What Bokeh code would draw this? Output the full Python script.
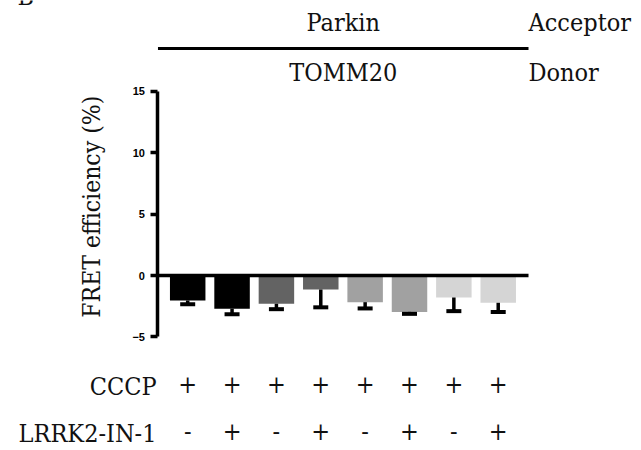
import math
from bokeh.plotting import figure
from bokeh.models import (Range1d, FixedTicker, Whisker, TeeHead,
                          ColumnDataSource, Label, LabelSet)
from bokeh.core.properties import value
from bokeh.embed import file_html
from bokeh.resources import INLINE

# ---- data ----
groups = [1, 2, 3, 4, 5, 6, 7, 8]
fret = [-2.03, -2.71, -2.30, -1.14, -2.17, -2.96, -1.79, -2.22]
sem = [0.30, 0.45, 0.44, 1.45, 0.51, 0.16, 1.11, 0.75]
bar_colors = ["#000000", "#000000", "#636363", "#636363",
              "#a1a1a1", "#a1a1a1", "#d5d5d5", "#d5d5d5"]
cccp = ["+", "+", "+", "+", "+", "+", "+", "+"]
lrrk2 = ["-", "+", "-", "+", "-", "+", "-", "+"]
y_ticks = [-5, 0, 5, 10, 15]
acceptor_label = "Parkin"
donor_label = "TOMM20"
y_title = "FRET efficiency (%)"

COND = "DejaVu Serif Condensed"
X0, X1 = 0.330, 8.683          # y-axis position / end of zero line
OFF = 0.70                     # baseline correction (data units)
SIGN_OFF = -0.50               # +/- glyph vertical correction

p = figure(width=641, height=450, output_backend="svg", toolbar_location=None,
           x_range=Range1d(-3.220, 11.230), y_range=Range1d(-14.239, 22.376),
           x_axis_location=None, min_border=0)
p.outline_line_color = None
p.xgrid.visible = False
p.ygrid.visible = False

src = ColumnDataSource(dict(x=groups, top=[0] * 8, bottom=fret, color=bar_colors,
                            lower=[f - s for f, s in zip(fret, sem)],
                            cccp=cccp, lrrk2=lrrk2))

p.vbar(x="x", top="top", bottom="bottom", width=0.8, fill_color="color",
       line_color=None, source=src)

wh = Whisker(base="x", upper="bottom", lower="lower", source=src,
             upper_head=None,
             lower_head=TeeHead(size=15, line_width=4, line_color="black"),
             line_width=3.5, line_color="black", level="overlay")
p.add_layout(wh)

# zero line and header line
p.segment(x0=[X0], y0=[0], x1=[X1], y1=[0], line_width=3.5, line_color="black")
p.segment(x0=[X0], y0=[18.47], x1=[X1], y1=[18.47], line_width=3, line_color="black")

ax = p.yaxis[0]
ax.fixed_location = X0
ax.ticker = FixedTicker(ticks=y_ticks)
ax.bounds = (-5, 15)
ax.axis_line_width = 3.5
ax.major_tick_line_width = 3.5
ax.major_tick_out = 7
ax.major_tick_in = 0
ax.minor_tick_line_color = None
ax.major_label_text_font = "Liberation Sans"
ax.major_label_text_font_style = "bold"
ax.major_label_text_font_size = "11px"
ax.major_label_text_color = "black"
ax.major_label_standoff = 6

# y-axis title (rotated label, centred on the axis span)
p.add_layout(Label(x=-1.169, y=5.60, text=y_title, angle=math.pi / 2,
                   text_align="center", text_baseline="middle", text_font=COND,
                   text_font_size="24.5px", text_color="#111111"))

mid = (X0 + X1) / 2
texts = [("B", -2.837, 21.97, "left"),
         (acceptor_label, mid, 19.85, "center"),
         (donor_label, mid, 15.79, "center"),
         ("Acceptor", X1, 19.85, "left"),
         ("Donor", X1, 15.79, "left"),
         ("CCCP", 0.297, -9.76, "right"),
         ("LRRK2-IN-1", 0.297, -13.59, "right")]
for txt, x, y, align in texts:
    p.add_layout(Label(x=x, y=y + OFF, text=txt, text_align=align,
                       text_baseline="alphabetic", text_font=COND,
                       text_font_size="25px", text_color="#111111"))

for col, y in [("cccp", -9.76), ("lrrk2", -13.59)]:
    p.add_layout(LabelSet(x="x", y=y + OFF + SIGN_OFF, text=col, source=src,
                          text_align="center", text_baseline="alphabetic",
                          text_font=value(COND), text_font_size="25px",
                          text_color="#111111"))

open("out.html", "w").write(file_html(p, INLINE))
